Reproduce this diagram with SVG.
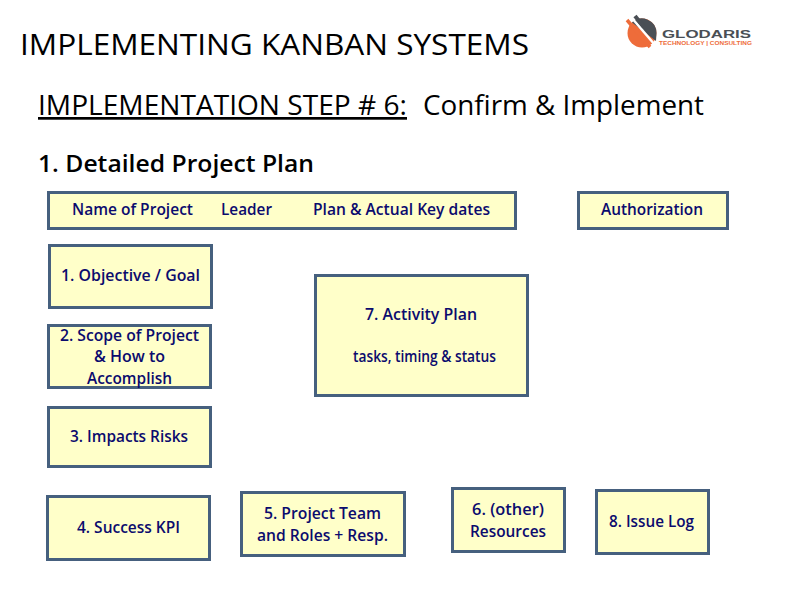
<svg xmlns="http://www.w3.org/2000/svg" width="792" height="612" viewBox="0 0 792 612">
<style>
.t{font-family:"Open Sans","Liberation Sans",sans-serif;fill:#000}
.b rect{fill:#ffffc9;stroke:#46607e;stroke-width:3}
.b text{font-family:"Open Sans","Liberation Sans",sans-serif;font-weight:600;font-size:16px;fill:#0b0b6e}
</style>
<rect width="792" height="612" fill="#fff"/>
<text class="t" x="20" y="55" font-size="30" textLength="509" lengthAdjust="spacingAndGlyphs">IMPLEMENTING KANBAN SYSTEMS</text>
<text class="t" x="38" y="115" font-size="27" style="text-decoration:underline;text-decoration-thickness:1.500px" textLength="369" lengthAdjust="spacingAndGlyphs">IMPLEMENTATION STEP # 6:</text>
<text class="t" x="423" y="115" font-size="27" textLength="281" lengthAdjust="spacingAndGlyphs">Confirm &amp; Implement</text>
<text class="t" x="38" y="172" font-size="24" font-weight="600" textLength="276" lengthAdjust="spacingAndGlyphs">1.  Detailed Project Plan</text>
<g id="logo">
<circle cx="642" cy="33" r="14.500" fill="#ee6c3a"/>
<path d="M632 22.500A14.500 14.500 0 0 1 656.500 33L656 41Z" fill="#4a4f55"/>
<path d="M627 20L650 47" stroke="#ee6c3a" stroke-width="3.500"/>
<path d="M631 17L655 45" stroke="#fff" stroke-width="2.500"/>
<path d="M635 16L644 27" stroke="#4a4f55" stroke-width="4"/>
<text x="662" y="37.500" font-family="Liberation Sans,sans-serif" font-weight="700" font-size="11.500" fill="#4a4f55" textLength="89" lengthAdjust="spacingAndGlyphs">GLODARIS</text>
<text x="659" y="45" font-family="Liberation Sans,sans-serif" font-weight="700" font-size="6" fill="#ee6c3a" textLength="93" lengthAdjust="spacingAndGlyphs">TECHNOLOGY | CONSULTING</text>
</g>
<g id="header" class="b"><rect x="48.500" y="192.500" width="467" height="36"/>
<text x="72" y="215" textLength="121" lengthAdjust="spacingAndGlyphs">Name of Project</text><text x="221" y="215" textLength="51" lengthAdjust="spacingAndGlyphs">Leader</text><text x="313" y="215" textLength="177" lengthAdjust="spacingAndGlyphs">Plan &amp; Actual Key dates</text></g>
<g id="authorization" class="b"><rect x="578.500" y="192.500" width="149" height="36"/><text x="601" y="215" textLength="102" lengthAdjust="spacingAndGlyphs">Authorization</text></g>
<g id="n1" class="b"><rect x="49.500" y="245.500" width="162" height="62"/><text x="61" y="281" textLength="139" lengthAdjust="spacingAndGlyphs">1. Objective / Goal</text></g>
<g id="n2" class="b"><rect x="48.500" y="325.500" width="162" height="62"/><text x="60" y="341" textLength="139" lengthAdjust="spacingAndGlyphs">2. Scope of Project</text><text x="94" y="362" textLength="71" lengthAdjust="spacingAndGlyphs">&amp; How to</text><text x="87" y="384" textLength="85" lengthAdjust="spacingAndGlyphs">Accomplish</text></g>
<g id="n7" class="b"><rect x="315.500" y="275.500" width="212" height="120"/><text x="365" y="320" textLength="112" lengthAdjust="spacingAndGlyphs">7. Activity Plan</text><text x="353" y="362" font-size="15" textLength="143" lengthAdjust="spacingAndGlyphs">tasks, timing &amp; status</text></g>
<g id="n3" class="b"><rect x="48.500" y="407.500" width="162" height="59"/><text x="70" y="442" textLength="118" lengthAdjust="spacingAndGlyphs">3. Impacts Risks</text></g>
<g id="n4" class="b"><rect x="47.500" y="496.500" width="162" height="63"/><text x="77" y="533" textLength="103" lengthAdjust="spacingAndGlyphs">4. Success KPI</text></g>
<g id="n5" class="b"><rect x="241.500" y="492.500" width="163" height="63"/><text x="264" y="519" textLength="117" lengthAdjust="spacingAndGlyphs">5. Project Team</text><text x="257" y="541" textLength="131" lengthAdjust="spacingAndGlyphs">and Roles + Resp.</text></g>
<g id="n6" class="b"><rect x="452.500" y="488.500" width="112" height="63"/><text x="472" y="515" textLength="72" lengthAdjust="spacingAndGlyphs">6. (other)</text><text x="470" y="537" textLength="76" lengthAdjust="spacingAndGlyphs">Resources</text></g>
<g id="n8" class="b"><rect x="596.500" y="490.500" width="112" height="63"/><text x="609" y="527" textLength="85" lengthAdjust="spacingAndGlyphs">8. Issue Log</text></g>
<g id="connectors"/>
</svg>
